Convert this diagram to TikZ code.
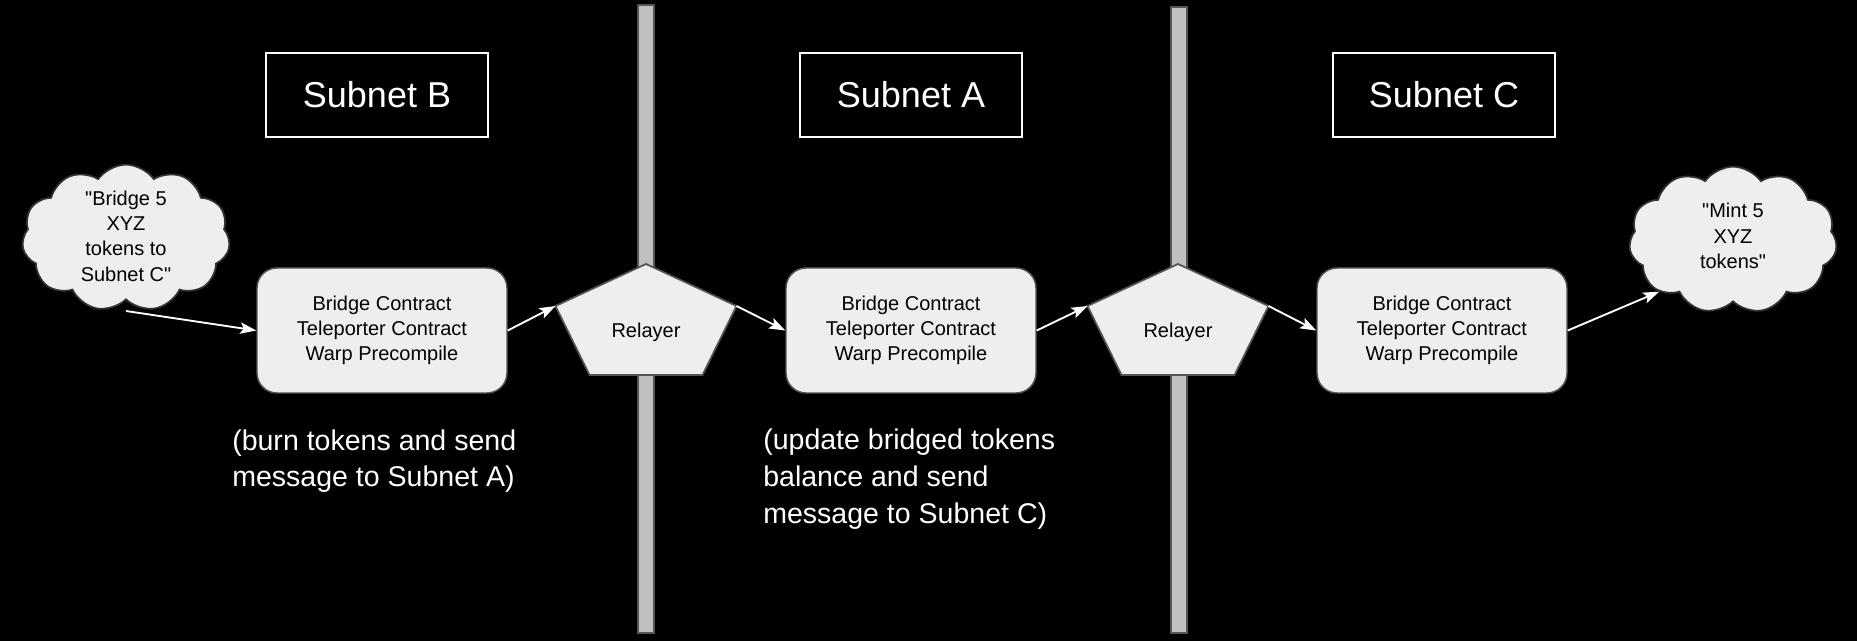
\documentclass[tikz,border=0pt]{standalone}
\usepackage{fontspec}
\setmainfont{Liberation Sans}[Ligatures=TeXOff]
\usetikzlibrary{shapes.symbols, arrows.meta}
\definecolor{boxgray}{HTML}{EEEEEE}
\definecolor{edgegray}{HTML}{555555}
\definecolor{wallgray}{HTML}{C0C0C0}

\begin{document}
\begin{tikzpicture}[x=7.5pt, y=-7.5pt, >={Stealth[length=12pt,width=8.5pt,inset=2.5pt]},
    subnet/.style={draw=white, line width=1.5pt, text=white, minimum width=167pt, minimum height=62.6pt, font=\fontsize{27}{32}\selectfont},
    contract/.style={draw=edgegray, fill=boxgray, line width=1.1pt, rounded corners=15pt, minimum width=187.5pt, minimum height=93.75pt, align=center, font=\fontsize{15}{18.75}\selectfont},
    relayer/.style={draw=edgegray, fill=boxgray, line width=1.3pt, line join=miter},
    wall/.style={draw=edgegray, fill=wallgray, line width=0.8pt, minimum width=12pt, inner sep=0pt},
    thought/.style={cloud, cloud puffs=11, cloud puff arc=110, aspect=1.4, draw=black!80, fill=boxgray, line width=1.3pt, minimum width=156pt, minimum height=110pt, inner sep=0pt},
    smalltext/.style={align=center, inner sep=0pt, font=\fontsize{15}{19}\selectfont},
    note/.style={anchor=west, align=left, text=white, inner sep=0pt, font=\fontsize{21.4}{27.5}\selectfont},
    flow/.style={->, draw=white, line width=1.4pt}]

        % background
        \fill[black] (0,0) rectangle (185.7,64.1);
        \useasboundingbox (0,0) rectangle (185.7,64.1);

        % === Walls between subnets ===
        \node[wall, minimum height=471pt] (W1) at (64.6, 31.9) {};
        \node[wall, minimum height=469.5pt] (W2) at (117.9, 32.0) {};

        % Subnet titles
        \node[subnet] (SB) at (37.7, 9.5) {Subnet B};
        \node[subnet] (SA) at (91.1, 9.5) {Subnet A};
        \node[subnet] (SC) at (144.4, 9.5) {Subnet C};

        % Contract stacks
        \node[contract] (CB) at (38.2, 33.05) {Bridge Contract\\Teleporter Contract\\Warp Precompile};
        \node[contract] (CA) at (91.1, 33.05) {Bridge Contract\\Teleporter Contract\\Warp Precompile};
        \node[contract] (CC) at (144.2, 33.05) {Bridge Contract\\Teleporter Contract\\Warp Precompile};

        % Relayers (on the walls)
        \coordinate (P1t) at (64.6, 26.4);
        \coordinate (P1r) at (73.65, 30.6);
        \coordinate (P1br) at (70.25, 37.5);
        \coordinate (P1bl) at (58.95, 37.5);
        \coordinate (P1l) at (55.55, 30.6);
        \draw[relayer] (P1t) -- (P1r) -- (P1br) -- (P1bl) -- (P1l) -- cycle;
        \node[smalltext] (P1) at (64.6, 33.2) {Relayer};

        \coordinate (P2t) at (117.8, 26.4);
        \coordinate (P2r) at (126.85, 30.6);
        \coordinate (P2br) at (123.45, 37.5);
        \coordinate (P2bl) at (112.15, 37.5);
        \coordinate (P2l) at (108.75, 30.6);
        \draw[relayer] (P2t) -- (P2r) -- (P2br) -- (P2bl) -- (P2l) -- cycle;
        \node[smalltext] (P2) at (117.8, 33.2) {Relayer};

        % Thought clouds
        \node[thought] (TB) at (12.6, 23.8) {};
        \node[smalltext] (TBt) at (12.6, 23.6) {"Bridge 5\\XYZ\\tokens to\\Subnet C"};
        \coordinate (TBs) at (12.6, 31.1);

        \node[thought] (TC) at (173.3, 24.0) {};
        \node[smalltext] (TCt) at (173.3, 23.6) {"Mint 5\\XYZ\\tokens"};

        % Notes
        \node[note] (NB) at (23.2, 46.1) {(burn tokens and send\\message to Subnet A)};
        \node[note] (NA) at (76.3, 47.9) {(update bridged tokens\\balance and send\\message to Subnet C)};

        % Connections
        \draw[flow] (TBs) -- (CB.west);
        \draw[flow] (CB.east) -- (P1l);
        \draw[flow] (P1r) -- (CA.west);
        \draw[flow] (CA.east) -- (P2l);
        \draw[flow] (P2r) -- (CC.west);
        \draw[flow] (CC.east) -- (TC.215);

\end{tikzpicture}
\end{document}
